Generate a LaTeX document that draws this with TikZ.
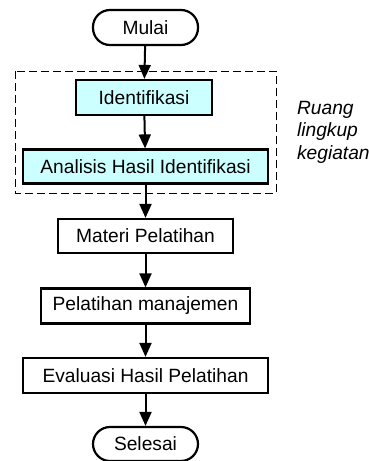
\documentclass[tikz,border=0pt]{standalone}
\usepackage{fontspec}
\setmainfont{Liberation Sans}
\usetikzlibrary{positioning,arrows.meta}
\definecolor{lightcyan}{RGB}{204,255,255}

\begin{document}
\begin{tikzpicture}[x=0.5pt,y=-0.5pt,
    every node/.style={font=\fontsize{9.6}{11.2}\selectfont},
    term/.style={draw,line width=1.1pt,rounded corners=8.5pt,minimum width=52.5pt,minimum height=17.5pt,inner sep=0pt},
    proc/.style={draw,line width=1.1pt,minimum height=17.5pt,inner sep=0pt},
    scope/.style={proc,fill=lightcyan},
    flow/.style={-{Triangle[length=7pt,width=6pt]},line width=1pt}]
  \useasboundingbox (0,0) rectangle (369,461);
  \node[term] (mulai) at (145.5,27.5) {Mulai};
  \node[scope,minimum width=68pt] (ident) at (144,97.5) {Identifikasi};
  \node[scope,minimum width=122.5pt,minimum height=17pt] (anls) at (145.5,166.5) {Analisis Hasil Identifikasi};
  \node[proc,minimum width=87.5pt,minimum height=17pt] (materi) at (145.5,236) {Materi Pelatihan};
  \node[proc,minimum width=104.5pt] (latih) at (145.5,306) {Pelatihan manajemen};
  \node[proc,minimum width=122.5pt] (eval) at (145.5,375.5) {Evaluasi Hasil Pelatihan};
  \node[term,minimum height=17pt] (selesai) at (145.5,444) {Selesai};
  % ruang lingkup
  \draw[dashed,dash pattern=on 4pt off 2pt,line width=0.5pt] (15,71) rectangle (276,193);
  \node[anchor=west,align=left,font=\fontsize{9.6}{11.25}\selectfont\itshape] (ket) at (290,132)
     {Ruang\\lingkup\\kegiatan};
  \draw[flow] (mulai) -- (ident);
  \draw[flow] (ident) -- (anls);
  \draw[flow] (anls) -- (materi);
  \draw[flow] (materi) -- (latih);
  \draw[flow] (latih) -- (eval);
  \draw[flow] (eval) -- (selesai);
\end{tikzpicture}
\end{document}
